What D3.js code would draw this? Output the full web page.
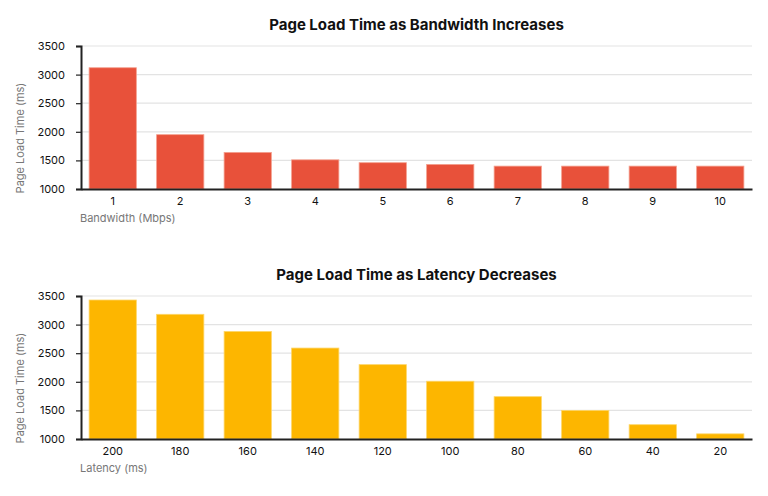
<!DOCTYPE html>
<html>
<head>
<meta charset="utf-8">
<script src="https://cdn.jsdelivr.net/npm/d3@7"></script>
<style>
  body { margin: 0; background: #fff; }
  text { font-family: Inter, "Noto Sans", sans-serif; }
</style>
</head>
<body>
<div id="chart"></div>
<script>
var bandwidth = ["1", "2", "3", "4", "5", "6", "7", "8", "9", "10"];
var bandwidthLoad = [3120, 1950, 1640, 1510, 1460, 1430, 1400, 1400, 1400, 1400];
var latency = ["200", "180", "160", "140", "120", "100", "80", "60", "40", "20"];
var latencyLoad = [3430, 3180, 2880, 2590, 2300, 2010, 1740, 1500, 1250, 1090];
var yTicks = [1000, 1500, 2000, 2500, 3000, 3500];

var w = 768;
var h = 496;

var svg = d3.select("#chart")
            .append("svg")
            .attr("width", w)
            .attr("height", h);

function barChart(top, title, cats, values, xTitle, color, stroke) {
  var left = 81, right = 752;
  var y0 = top + 46, y1 = top + 189;

  var g = svg.append("g");

  var x = d3.scaleBand()
            .domain(cats)
            .range([left, right])
            .paddingInner(0.3)
            .paddingOuter(0.12);

  var y = d3.scaleLinear()
            .domain([1000, 3500])
            .range([y1, y0]);

  // gridlines
  g.selectAll(".grid")
   .data(yTicks.slice(1))
   .enter()
   .append("line")
   .attr("x1", left)
   .attr("x2", right)
   .attr("y1", function(d) { return y(d); })
   .attr("y2", function(d) { return y(d); })
   .attr("stroke", "#e3e3e3")
   .attr("stroke-width", 1.2);

  // bars
  g.selectAll(".bar")
   .data(values)
   .enter()
   .append("rect")
   .attr("x", function(d, i) { return x(cats[i]); })
   .attr("width", x.bandwidth())
   .attr("y", function(d) { return y(d); })
   .attr("height", function(d) { return y1 - y(d); })
   .attr("fill", color)
   .attr("stroke", stroke)
   .attr("stroke-width", 0.8);

  // y axis
  var yAxis = g.append("g")
               .attr("transform", "translate(" + left + ",0)")
               .call(d3.axisLeft(y).tickValues(yTicks).tickFormat(d3.format("d"))
                       .tickSize(5).tickPadding(11));
  yAxis.select(".domain").attr("stroke", "#222").attr("stroke-width", 2);
  yAxis.selectAll(".tick line").attr("stroke", "#222").attr("stroke-width", 1.2);
  yAxis.selectAll("text").attr("fill", "#111").style("font-size", "11px");

  // x axis
  var xAxis = g.append("g")
               .attr("transform", "translate(0," + y1 + ")")
               .call(d3.axisBottom(x).tickSize(0).tickPadding(8));
  xAxis.select(".domain").attr("stroke", "#222").attr("stroke-width", 2);
  xAxis.selectAll("text").attr("fill", "#111").style("font-size", "11px");

  // title
  g.append("text")
   .attr("x", (left + right) / 2)
   .attr("y", top + 30)
   .attr("text-anchor", "middle")
   .style("font-size", "15px")
   .style("font-weight", "bold")
   .attr("fill", "#111")
   .text(title);

  // axis titles
  g.append("text")
   .attr("x", 80)
   .attr("y", top + 222)
   .style("font-size", "11px")
   .attr("fill", "#777")
   .text(xTitle);

  g.append("text")
   .attr("transform", "translate(24," + (top + 138) + ") rotate(-90)")
   .attr("text-anchor", "middle")
   .style("font-size", "11px")
   .attr("fill", "#777")
   .text("Page Load Time (ms)");
}

barChart(0, "Page Load Time as Bandwidth Increases", bandwidth, bandwidthLoad,
         "Bandwidth (Mbps)", "#e8513a", "#f4a08f");
barChart(250, "Page Load Time as Latency Decreases", latency, latencyLoad,
         "Latency (ms)", "#fdb600", "#fdd66a");
</script>
</body>
</html>
